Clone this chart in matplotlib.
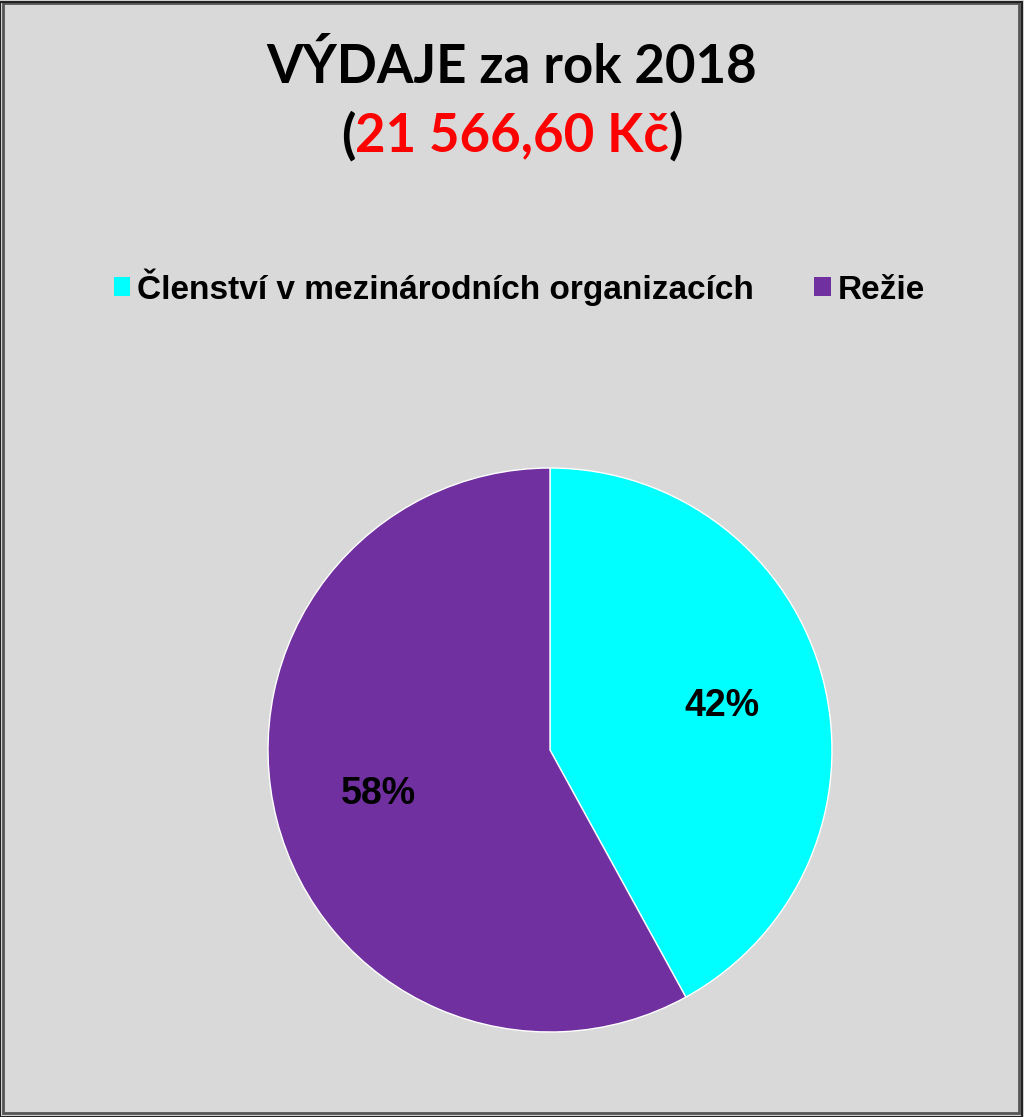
import matplotlib
matplotlib.use('Agg')
import matplotlib.pyplot as plt
from matplotlib.patches import Rectangle

# data
labels = ['Členství v mezinárodních organizacích', 'Režie']
values = [42, 58]
colors = ['#00ffff', '#7030a0']
title_line1 = 'VÝDAJE za rok 2018'
total_text = '21 566,60 Kč'

fig = plt.figure(figsize=(10.24, 11.17), dpi=100)
fig.patch.set_facecolor('#d9d9d9')

# frame around chart
fig.patches.append(Rectangle((0.003, 0.004), 0.992, 0.993, transform=fig.transFigure,
                             fill=False, edgecolor='#555555', linewidth=2))
fig.patches.append(Rectangle((0.0, 0.0), 0.998, 0.998, transform=fig.transFigure,
                             fill=False, edgecolor='#222222', linewidth=1.5))

# title
fig.text(0.5, 0.94, title_line1, ha='center', va='center', fontsize=38,
         fontweight='bold', family='Lato', color='black')

# second line in pieces: "(" red number ")"
parts = [('(', 'black'), (total_text, 'red'), (')', 'black')]
renderer = fig.canvas.get_renderer()
widths = []
objs = []
for s, c in parts:
    t = fig.text(0, 0.878, s, ha='left', va='center', fontsize=38,
                 fontweight='bold', family='Lato', color=c)
    bb = t.get_window_extent(renderer=renderer)
    widths.append(bb.width / fig.bbox.width)
    objs.append(t)
x = 0.5 - sum(widths) / 2
for t, w in zip(objs, widths):
    t.set_x(x)
    x += w

# pie
ax = fig.add_axes([0.2617, 0.0761, 0.5508, 0.5049])
ax.set_facecolor('#d9d9d9')
wedges, texts, autotexts = ax.pie(values, colors=colors, startangle=90, counterclock=False,
                                  autopct='%1.0f%%', pctdistance=0.63,
                                  wedgeprops=dict(edgecolor='white', linewidth=1),
                                  textprops=dict(fontsize=27, fontweight='bold',
                                                 family='Liberation Sans', color='black'))
ax.set_xlim(-1.0, 1.0)
ax.set_ylim(-1.0, 1.0)
ax.set_aspect('equal')

# legend
leg = fig.legend(wedges, labels, loc='center', bbox_to_anchor=(0.507, 0.743), ncol=2,
                 frameon=False, handlelength=0.5, handleheight=0.5, handletextpad=0.2,
                 columnspacing=1.8,
                 prop=dict(family='Liberation Sans', weight='bold', size=24))
for h in leg.legend_handles:
    h.set_edgecolor('none')

fig.savefig('out.png', dpi=100, facecolor=fig.get_facecolor())
